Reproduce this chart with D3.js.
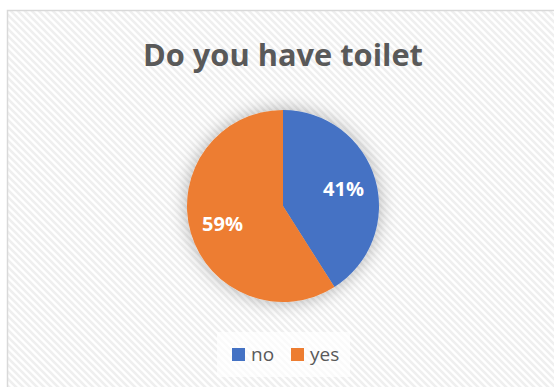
<!DOCTYPE html>
<html>
<head>
<meta charset="utf-8">
<script src="https://cdn.jsdelivr.net/npm/d3@7"></script>
<style>
  html, body { margin: 0; padding: 0; background: #ffffff; }
  svg { display: block; }
</style>
</head>
<body>
<script>
// Survey answers: share of households with a toilet
const categories = ["no", "yes"];
const shares = [41, 59];
const sliceColors = ["#4472C4", "#ED7D31"];
const titleText = "Do you have toilet";

const W = 554, H = 387;
const svg = d3.select("body").append("svg").attr("width", W).attr("height", H);
const defs = svg.append("defs");

// Diagonal hatch fill used for the chart area
const pat = defs.append("pattern")
  .attr("id", "hatch")
  .attr("patternUnits", "userSpaceOnUse")
  .attr("width", 7).attr("height", 7);
pat.append("rect").attr("width", 7).attr("height", 7).attr("fill", "#ffffff");
pat.append("path")
  .attr("d", "M-1,-1 L8,8 M-8,-1 L1,8 M6,-1 L15,8")
  .attr("stroke", "#efefef").attr("stroke-width", 2.6);

// Soft glow behind the pie
const glow = defs.append("filter").attr("id", "glow")
  .attr("x", "-40%").attr("y", "-40%").attr("width", "180%").attr("height", "180%");
glow.append("feGaussianBlur").attr("in", "SourceAlpha").attr("stdDeviation", 9).attr("result", "b");
glow.append("feFlood").attr("flood-color", "#000").attr("flood-opacity", 0.3);
glow.append("feComposite").attr("in2", "b").attr("operator", "in").attr("result", "s");
const m = glow.append("feMerge");
m.append("feMergeNode").attr("in", "s");
m.append("feMergeNode").attr("in", "SourceGraphic");

// Chart area
svg.append("rect")
  .attr("x", 7.5).attr("y", 10.5)
  .attr("width", W).attr("height", H)
  .attr("fill", "url(#hatch)")
  .attr("stroke", "#d9d9d9").attr("stroke-width", 1.5);

// Title
const title = svg.append("text")
  .attr("x", 283).attr("y", 66)
  .attr("text-anchor", "middle")
  .attr("font-family", "'Open Sans', sans-serif")
  .attr("font-weight", 700)
  .attr("font-size", 31)
  .attr("fill", "#595959")
  .text(titleText);
title.attr("textLength", 280).attr("lengthAdjust", "spacingAndGlyphs");

// Pie
const cx = 283, cy = 206, R = 96;
const pie = d3.pie().sort(null).value(d => d)(shares);
const arc = d3.arc().innerRadius(0).outerRadius(R);
const labelArc = d3.arc().innerRadius(63).outerRadius(63);
const color = d3.scaleOrdinal().domain(categories).range(sliceColors);

const g = svg.append("g").attr("transform", `translate(${cx},${cy})`);
g.append("g").attr("filter", "url(#glow)")
  .selectAll("path").data(pie).join("path")
  .attr("d", arc)
  .attr("fill", (d, i) => color(categories[i]));

g.selectAll("text.lbl").data(pie).join("text")
  .attr("class", "lbl")
  .attr("transform", d => `translate(${labelArc.centroid(d)})`)
  .attr("text-anchor", "middle")
  .attr("dy", "0.36em")
  .attr("font-family", "'Open Sans', sans-serif")
  .attr("font-weight", 700)
  .attr("font-size", 20)
  .attr("fill", "#ffffff")
  .text(d => d.data + "%");

// Legend
const legend = svg.append("g");
legend.append("rect")
  .attr("x", 217).attr("y", 332).attr("width", 133).attr("height", 45)
  .attr("fill", "#ffffff").attr("opacity", 0.7);
const legendX = [232, 291];
categories.forEach((c, i) => {
  legend.append("rect")
    .attr("x", legendX[i]).attr("y", 348).attr("width", 13).attr("height", 13)
    .attr("fill", color(c));
  legend.append("text")
    .attr("x", legendX[i] + 19).attr("y", 361)
    .attr("font-family", "'Open Sans', sans-serif")
    .attr("font-size", 19)
    .attr("fill", "#595959")
    .text(c);
});
</script>
</body>
</html>
